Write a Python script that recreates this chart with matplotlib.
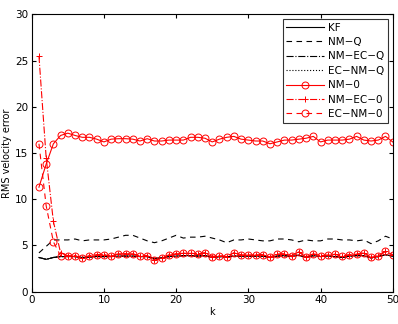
import numpy as np
import matplotlib
matplotlib.use("Agg")
import matplotlib.pyplot as plt

k = np.arange(1, 51)

nm0 = [11.3, 13.8, 16.0, 16.9, 17.15, 16.9, 16.7, 16.7, 16.5, 16.2,
       16.5, 16.55, 16.55, 16.5, 16.3, 16.55, 16.3, 16.3, 16.4, 16.4,
       16.4, 16.7, 16.7, 16.6, 16.2, 16.5, 16.7, 16.8, 16.5, 16.4,
       16.3, 16.3, 16.0, 16.2, 16.4, 16.4, 16.5, 16.6, 16.8, 16.2,
       16.4, 16.4, 16.4, 16.5, 16.8, 16.4, 16.3, 16.4, 16.8, 16.2]

low = [3.87, 3.9, 3.9, 3.6, 3.9, 4.0, 4.0, 3.85, 4.1, 4.1,
       4.1, 3.85, 3.9, 3.4, 3.6, 4.0, 4.1, 4.15, 4.15, 4.1,
       4.2, 3.8, 3.9, 3.8, 4.2, 4.0, 3.95, 4.0, 4.0, 3.75,
       4.05, 4.1, 3.9, 4.3, 3.75, 4.1, 3.9, 3.95, 4.05, 3.85,
       4.0, 4.05, 4.2, 3.7, 3.9, 4.35, 4.0]

ec_nm_0 = [16.0, 9.3, 5.4] + low
nm_ec_0 = [25.5, 14.5, 7.6, 4.2] + low[1:]

kf = [3.7, 3.5, 3.7, 3.8, 3.8, 3.8, 3.7, 3.75, 3.8, 3.8,
      3.8, 3.85, 3.85, 3.85, 3.8, 3.8, 3.6, 3.65, 3.8, 3.85,
      3.9, 3.9, 3.85, 3.9, 3.7, 3.8, 3.75, 3.85, 3.85, 3.85,
      3.85, 3.85, 3.7, 3.85, 3.9, 3.8, 3.95, 3.7, 3.9, 3.8,
      3.85, 3.8, 3.7, 3.85, 3.9, 3.9, 3.65, 3.8, 4.0, 3.85]

nm_q = [4.2, 4.9, 5.6, 5.6, 5.6, 5.7, 5.5, 5.6, 5.6, 5.6,
        5.7, 5.9, 6.1, 6.1, 5.8, 5.5, 5.3, 5.5, 5.8, 6.1,
        5.8, 5.9, 5.9, 6.0, 5.8, 5.6, 5.3, 5.6, 5.6, 5.7,
        5.6, 5.5, 5.5, 5.7, 5.7, 5.6, 5.4, 5.6, 5.5, 5.5,
        5.7, 5.7, 5.6, 5.6, 5.5, 5.6, 5.2, 5.5, 6.0, 5.7]

nm_ec_q = kf
ec_nm_q = kf

fig = plt.figure(figsize=(3.98, 3.24), dpi=100)
ax = fig.add_axes([0.0797, 0.0997, 0.907, 0.856])

ax.plot(k, kf, "k-", lw=0.8, label="KF")
ax.plot(k, nm_q, "k--", lw=0.8, dashes=(5, 4), label="NM\u2212Q")
ax.plot(k, nm_ec_q, "k-.", lw=0.8, label="NM\u2212EC\u2212Q")
ax.plot(k, ec_nm_q, "k:", lw=0.8, label="EC\u2212NM\u2212Q")
ax.plot(k, nm0, "r-o", lw=0.8, ms=5, mfc="none", mew=0.7, label="NM\u22120")
ax.plot(k, nm_ec_0, "r-.+", lw=0.8, ms=5, mew=0.7, label="NM\u2212EC\u22120")
ax.plot(k, ec_nm_0, "r--o", lw=0.8, ms=5, mfc="none", mew=0.7,
        dashes=(5, 4), label="EC\u2212NM\u22120")

ax.set_xlim(0, 50)
ax.set_ylim(0, 30)
ax.set_xticks([0, 10, 20, 30, 40, 50])
ax.set_yticks([0, 5, 10, 15, 20, 25, 30])
ax.tick_params(direction="in", top=True, right=True, labelsize=7.5,
               length=3, pad=2.5)
ax.set_xlabel("k", fontsize=7, labelpad=1)
ax.set_ylabel("RMS velocity error", fontsize=7, labelpad=2)

leg = ax.legend(loc="upper right", fontsize=7.5, fancybox=False,
                edgecolor="k", handlelength=3.6, labelspacing=0.42,
                borderpad=0.35, handletextpad=0.4, borderaxespad=0.45)
leg.get_frame().set_linewidth(0.8)

fig.savefig("out.png", dpi=100)
